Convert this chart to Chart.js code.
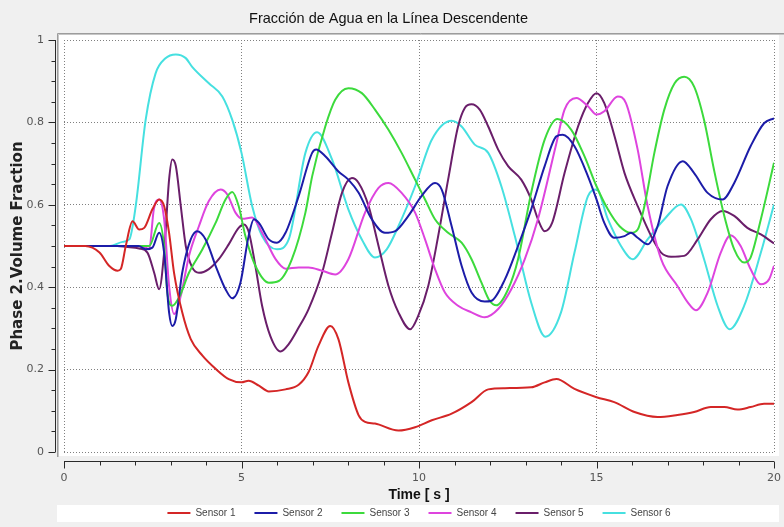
<!DOCTYPE html>
<html>
<head>
<meta charset="utf-8">
<title>Fracción de Agua en la Línea Descendente</title>
<script src="https://cdn.jsdelivr.net/npm/chart.js@4.4.0/dist/chart.umd.min.js"></script>
<style>
  html, body { margin: 0; padding: 0; background: #f0f0f0; }
  canvas { display: block; }
</style>
</head>
<body>
<canvas id="aguaChart" width="784" height="527"></canvas>
<script>
// series names and values: [time s, volume fraction]
const sensorNames = ["Sensor 1", "Sensor 2", "Sensor 3", "Sensor 4", "Sensor 5", "Sensor 6"];

const sensor1 = [[0,0.5],[0.6,0.5],[1.0,0.484],[1.27,0.452],[1.51,0.44],[1.6,0.444],[1.74,0.5],[1.93,0.56],[2.12,0.54],[2.26,0.544],[2.49,0.589],[2.68,0.613],[2.82,0.597],[2.96,0.532],[3.1,0.435],[3.33,0.339],[3.57,0.274],[3.9,0.234],[4.27,0.202],[4.64,0.177],[5.0,0.169],[5.2,0.173],[5.49,0.161],[5.77,0.147],[6.24,0.152],[6.61,0.163],[6.89,0.194],[7.17,0.258],[7.5,0.306],[7.73,0.274],[8.01,0.169],[8.3,0.089],[8.48,0.073],[8.76,0.069],[9.42,0.052],[9.89,0.06],[10.36,0.077],[10.92,0.093],[11.48,0.121],[11.95,0.152],[12.42,0.155],[13.16,0.157],[13.54,0.169],[13.87,0.177],[14.38,0.153],[15,0.133],[15.5,0.121],[16.07,0.097],[16.72,0.085],[17.28,0.09],[17.75,0.097],[18.22,0.109],[18.6,0.109],[18.97,0.103],[19.34,0.109],[19.72,0.117],[20,0.117]];

const sensor2 = [[0,0.5],[2.1,0.5],[2.3,0.492],[2.49,0.496],[2.68,0.532],[2.82,0.484],[2.96,0.339],[3.05,0.306],[3.15,0.323],[3.33,0.435],[3.57,0.516],[3.75,0.536],[3.99,0.516],[4.27,0.452],[4.55,0.395],[4.74,0.373],[4.97,0.411],[5.2,0.524],[5.35,0.565],[5.49,0.556],[5.77,0.516],[6.0,0.508],[6.24,0.532],[6.61,0.621],[6.99,0.726],[7.1,0.734],[7.36,0.718],[7.73,0.681],[8.01,0.661],[8.3,0.629],[8.67,0.565],[9.04,0.532],[9.33,0.536],[9.7,0.573],[10.07,0.621],[10.45,0.653],[10.64,0.637],[10.92,0.548],[11.2,0.452],[11.48,0.387],[11.85,0.365],[12.04,0.367],[12.42,0.419],[12.79,0.5],[13.16,0.589],[13.54,0.694],[13.87,0.766],[14.05,0.77],[14.38,0.742],[14.76,0.669],[15,0.613],[15.22,0.556],[15.5,0.52],[15.79,0.524],[15.97,0.532],[16.16,0.52],[16.44,0.504],[16.72,0.548],[17.0,0.645],[17.43,0.706],[17.75,0.677],[18.13,0.629],[18.55,0.613],[18.88,0.653],[19.34,0.742],[19.72,0.798],[20,0.81]];

const sensor3 = [[0,0.5],[2.2,0.5],[2.4,0.5],[2.68,0.556],[2.82,0.5],[2.91,0.387],[3.05,0.355],[3.24,0.375],[3.52,0.435],[3.9,0.492],[4.27,0.556],[4.55,0.613],[4.74,0.631],[4.92,0.597],[5.11,0.524],[5.39,0.452],[5.77,0.411],[6.05,0.415],[6.42,0.468],[6.8,0.581],[6.99,0.669],[7.36,0.79],[7.64,0.855],[8.01,0.883],[8.39,0.871],[8.76,0.831],[9.14,0.782],[9.51,0.726],[9.89,0.661],[10.17,0.613],[10.45,0.565],[10.82,0.532],[11.2,0.508],[11.48,0.468],[11.76,0.411],[11.99,0.367],[12.18,0.356],[12.51,0.395],[12.79,0.468],[13.16,0.629],[13.54,0.758],[13.9,0.808],[14.29,0.782],[14.66,0.718],[15,0.645],[15.32,0.589],[15.65,0.548],[15.97,0.532],[16.16,0.54],[16.35,0.597],[16.63,0.726],[16.91,0.831],[17.2,0.895],[17.47,0.911],[17.75,0.887],[18.03,0.806],[18.31,0.685],[18.6,0.573],[18.88,0.492],[19.16,0.46],[19.34,0.472],[19.63,0.565],[20,0.702]];

const sensor4 = [[0,0.5],[2.2,0.5],[2.4,0.492],[2.53,0.589],[2.68,0.613],[2.82,0.565],[2.96,0.403],[3.1,0.335],[3.29,0.379],[3.52,0.476],[3.8,0.548],[4.08,0.609],[4.41,0.637],[4.6,0.625],[4.83,0.581],[5.02,0.566],[5.3,0.569],[5.58,0.532],[5.96,0.468],[6.24,0.445],[6.61,0.448],[6.89,0.448],[7.27,0.44],[7.64,0.431],[8.01,0.468],[8.48,0.581],[8.86,0.641],[9.14,0.653],[9.51,0.629],[9.89,0.581],[10.17,0.516],[10.45,0.444],[10.73,0.387],[11.1,0.355],[11.48,0.339],[11.85,0.327],[12.23,0.347],[12.6,0.395],[12.98,0.468],[13.35,0.565],[13.85,0.742],[14.1,0.831],[14.43,0.859],[14.76,0.839],[15,0.819],[15.22,0.827],[15.6,0.863],[15.83,0.847],[16.16,0.734],[16.44,0.597],[16.82,0.468],[17.28,0.403],[17.57,0.363],[17.8,0.344],[18.13,0.387],[18.5,0.484],[18.78,0.526],[19.06,0.5],[19.34,0.444],[19.63,0.407],[19.86,0.419],[20,0.452]];

const sensor5 = [[0,0.5],[1.5,0.5],[1.74,0.498],[2.12,0.494],[2.35,0.484],[2.54,0.435],[2.68,0.395],[2.82,0.484],[2.96,0.661],[3.05,0.71],[3.15,0.694],[3.29,0.597],[3.43,0.5],[3.61,0.448],[3.8,0.435],[4.08,0.444],[4.36,0.468],[4.64,0.504],[4.92,0.544],[5.07,0.552],[5.21,0.532],[5.39,0.452],[5.58,0.355],[5.81,0.282],[6.1,0.244],[6.33,0.262],[6.61,0.302],[6.89,0.347],[7.27,0.435],[7.55,0.532],[7.83,0.629],[8.11,0.665],[8.3,0.653],[8.58,0.597],[8.86,0.5],[9.14,0.403],[9.42,0.339],[9.75,0.298],[9.98,0.331],[10.26,0.403],[10.54,0.524],[10.82,0.661],[11.1,0.79],[11.29,0.835],[11.48,0.844],[11.71,0.831],[11.95,0.79],[12.23,0.734],[12.51,0.694],[12.88,0.661],[13.16,0.613],[13.35,0.565],[13.54,0.536],[13.75,0.556],[14.1,0.677],[14.48,0.79],[14.76,0.847],[15,0.871],[15.22,0.847],[15.51,0.766],[15.79,0.677],[16.16,0.597],[16.54,0.524],[16.82,0.484],[17.1,0.474],[17.47,0.476],[17.85,0.516],[18.22,0.565],[18.55,0.585],[18.88,0.573],[19.25,0.544],[19.63,0.528],[20,0.506]];

const sensor6 = [[0,0.5],[1.3,0.5],[1.65,0.51],[1.84,0.516],[2.02,0.597],[2.3,0.806],[2.58,0.919],[2.85,0.955],[3.15,0.965],[3.43,0.956],[3.61,0.935],[4.08,0.895],[4.46,0.863],[4.74,0.806],[5.0,0.726],[5.3,0.597],[5.58,0.524],[6.0,0.492],[6.33,0.516],[6.8,0.726],[7.13,0.776],[7.55,0.71],[8.01,0.589],[8.39,0.516],[8.76,0.472],[9.09,0.492],[9.42,0.548],[9.89,0.645],[10.36,0.758],[10.92,0.804],[11.2,0.79],[11.57,0.746],[11.95,0.726],[12.32,0.645],[12.7,0.524],[13.16,0.363],[13.56,0.28],[14.0,0.339],[14.38,0.484],[14.76,0.621],[15,0.637],[15.32,0.565],[15.69,0.5],[16.02,0.468],[16.44,0.516],[16.91,0.565],[17.38,0.601],[17.66,0.565],[18.03,0.468],[18.41,0.355],[18.75,0.298],[19.16,0.355],[19.63,0.484],[20,0.601]];

const sensorSeries = [sensor1, sensor2, sensor3, sensor4, sensor5, sensor6];
const sensorColors = ["#d42626", "#1c1ca8", "#3cda3c", "#de44de", "#6a1e6a", "#46e0e0"];

const xMajorStep = 5;   // labelled ticks 0,5,10,15,20
const yMajorStep = 0.2; // labelled ticks 0,0.2,...,1

function isMajor(v, step) {
  return Math.abs(v / step - Math.round(v / step)) < 1e-6;
}

// white plot panel, bevel lines and legend strip
const panelPlugin = {
  id: "panel",
  beforeDraw(chart) {
    const { ctx, chartArea: a } = chart;
    ctx.save();
    ctx.fillStyle = "#f0f0f0";
    ctx.fillRect(0, 0, chart.width, chart.height);
    ctx.fillStyle = "#ffffff";
    ctx.fillRect(a.left - 5, a.top - 5, a.right - a.left + 10, a.bottom - a.top + 9);
    ctx.lineWidth = 1;
    ctx.strokeStyle = "#9c9c9c";
    ctx.beginPath();
    ctx.moveTo(a.left - 6.5, a.bottom + 5);
    ctx.lineTo(a.left - 6.5, a.top - 6.5);
    ctx.lineTo(chart.width, a.top - 6.5);
    ctx.stroke();
    ctx.strokeStyle = "#c6c6c6";
    ctx.beginPath();
    ctx.moveTo(a.left - 5.5, a.bottom + 5);
    ctx.lineTo(a.left - 5.5, a.top - 5.5);
    ctx.lineTo(chart.width, a.top - 5.5);
    ctx.stroke();
    const lg = chart.legend;
    const cy = lg.top + lg.options.labels.padding + 5;
    ctx.fillStyle = "#ffffff";
    ctx.fillRect(a.left - 7, cy - 8, a.right - a.left + 12, 17);
    ctx.restore();
  }
};

// move the legend row to its place under the axis title
const legendRowPlugin = {
  id: "legendRow",
  afterLayout(chart) {
    const lg = chart.legend;
    const want = 513;
    const now = lg.top + lg.options.labels.padding + 5;
    lg.top += want - now;
    lg.bottom += want - now;
  }
};

// axis lines set off from the panel, with long and short ticks
const axisPlugin = {
  id: "axisLines",
  afterDraw(chart) {
    const { ctx, chartArea: a, scales: { x, y } } = chart;
    ctx.save();
    ctx.strokeStyle = "#2a2a2a";
    ctx.lineWidth = 1;
    const ax = a.left - 8.5;
    const ay = a.bottom + 9.5;
    ctx.beginPath();
    ctx.moveTo(ax, y.getPixelForValue(1));
    ctx.lineTo(ax, y.getPixelForValue(0));
    y.ticks.forEach(t => {
      const py = Math.round(y.getPixelForValue(t.value)) + 0.5;
      ctx.moveTo(ax, py);
      ctx.lineTo(ax - (isMajor(t.value, yMajorStep) ? 7 : 4), py);
    });
    ctx.moveTo(x.getPixelForValue(0), ay);
    ctx.lineTo(x.getPixelForValue(20), ay);
    x.ticks.forEach(t => {
      const px = Math.round(x.getPixelForValue(t.value)) + 0.5;
      ctx.moveTo(px, ay);
      ctx.lineTo(px, ay + (isMajor(t.value, xMajorStep) ? 7 : 4));
    });
    ctx.stroke();
    ctx.restore();
  }
};

const datasets = sensorSeries.map((s, i) => ({
  label: sensorNames[i],
  data: s.map(p => ({ x: p[0], y: p[1] })),
  borderColor: sensorColors[i],
  backgroundColor: sensorColors[i],
  borderWidth: 2,
  pointRadius: 0,
  pointStyle: "line",
  cubicInterpolationMode: "monotone",
  fill: false
}));

const tickFont = { family: "DejaVu Sans", size: 11 };
const gridDash = [1, 2];

const ctx = document.getElementById("aguaChart");

new Chart(ctx, {
  type: "line",
  data: { datasets: datasets },
  options: {
    responsive: false,
    animation: false,
    layout: { padding: { left: 0, right: 7, top: 0, bottom: -16 } },
    plugins: {
      title: {
        display: true,
        text: "Fracción de Agua en la Línea Descendente",
        color: "#111111",
        font: { family: "Liberation Sans", size: 14.5, weight: "normal" },
        padding: { top: 10, bottom: 12.6 }
      },
      legend: {
        position: "bottom",
        fullSize: false,
        labels: {
          usePointStyle: true,
          pointStyle: "line",
          pointStyleWidth: 23,
          padding: 19,
          color: "#444444",
          font: { family: "Liberation Sans", size: 10 }
        }
      },
      tooltip: { enabled: false }
    },
    scales: {
      x: {
        type: "linear",
        min: 0,
        max: 20,
        afterFit: s => { s.height = 52; },
        ticks: {
          stepSize: 1,
          autoSkip: false,
          maxRotation: 0,
          padding: 3,
          color: "#555555",
          font: tickFont,
          callback: v => isMajor(v, xMajorStep) ? String(Math.round(v)) : ""
        },
        grid: {
          color: c => (c.tick && isMajor(c.tick.value, xMajorStep)) ? "#808080" : "rgba(0,0,0,0)",
          tickColor: "rgba(0,0,0,0)",
          tickLength: 17,
          lineWidth: 1
        },
        border: { display: false, dash: gridDash },
        title: {
          display: true,
          text: "Time [ s ]",
          color: "#111111",
          font: { family: "Liberation Sans", size: 14, weight: "bold" },
          padding: { top: 0, bottom: 0 }
        }
      },
      y: {
        min: 0,
        max: 1,
        afterFit: s => { s.width = 64; },
        ticks: {
          stepSize: 0.05,
          autoSkip: false,
          padding: 3,
          color: "#555555",
          font: tickFont,
          callback: v => isMajor(v, yMajorStep) ? String(Math.round(v * 10) / 10) : ""
        },
        grid: {
          color: c => (c.tick && isMajor(c.tick.value, yMajorStep)) ? "#808080" : "rgba(0,0,0,0)",
          tickColor: "rgba(0,0,0,0)",
          tickLength: 17,
          lineWidth: 1
        },
        border: { display: false, dash: gridDash },
        title: {
          display: true,
          text: "Phase 2.Volume Fraction",
          color: "#222222",
          font: { family: "DejaVu Sans", size: 15, weight: "bold" },
          padding: { top: 9, bottom: 0 }
        }
      }
    }
  },
  plugins: [panelPlugin, legendRowPlugin, axisPlugin]
});
</script>
</body>
</html>
